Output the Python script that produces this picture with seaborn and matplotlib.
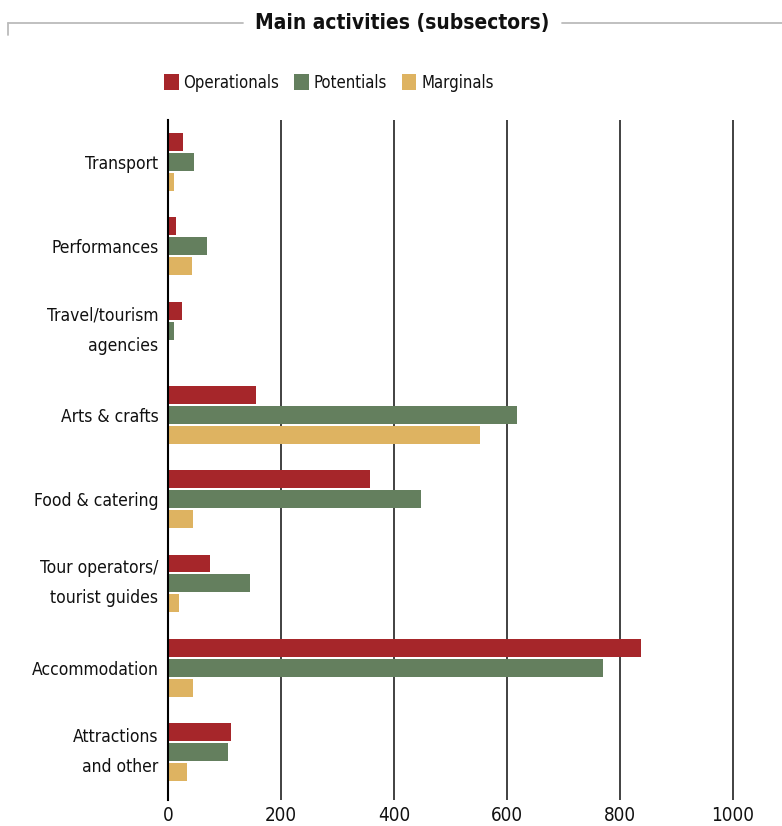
import matplotlib
matplotlib.use("Agg")
import matplotlib.pyplot as plt
from matplotlib.lines import Line2D
from matplotlib.patches import Patch
import seaborn as sns
import pandas as pd

categories = ["Transport", "Performances", "Travel/tourism\nagencies", "Arts & crafts",
              "Food & catering", "Tour operators/\ntourist guides", "Accommodation",
              "Attractions\nand other"]
operationals = [26, 14, 25, 155, 357, 75, 837, 111]
potentials = [46, 69, 11, 618, 448, 146, 770, 107]
marginals = [11, 42, 1, 553, 45, 19, 45, 33]
series = ["Operationals", "Potentials", "Marginals"]
colors = ["#A6262A", "#647F5E", "#DEB361"]
xticks = [0, 200, 400, 600, 800, 1000]

df = pd.DataFrame({
    "category": categories * 3,
    "value": operationals + potentials + marginals,
    "series": [s for s in series for _ in categories],
})

sns.set_theme(style="white")
plt.rcParams["font.family"] = ["DejaVu Sans"]
plt.rcParams["font.stretch"] = "condensed"
plt.rcParams["text.color"] = "#111111"
plt.rcParams["xtick.color"] = "#111111"
plt.rcParams["ytick.color"] = "#111111"

fig = plt.figure(figsize=(7.82, 8.26), dpi=100)
ax = fig.add_axes([168 / 782, 1 - 800 / 826, 1 - 168 / 782, 680 / 826])

sns.barplot(data=df, y="category", x="value", hue="series", order=categories,
            hue_order=series, palette=colors, orient="h", width=0.71, gap=0.1,
            saturation=1, ax=ax, legend=False, zorder=3, linewidth=0)

ax.set_xlim(0, 1087)
ax.set_ylim(7.57, -0.5)
ax.set_xticks(xticks)
ax.set_xticklabels([str(t) for t in xticks], fontsize=13.5)
ax.tick_params(axis="x", length=0, pad=4)
ax.tick_params(axis="y", length=0, pad=7, labelsize=12.5)
for lab in ax.get_yticklabels():
    if "\n" in lab.get_text():
        lab.set_linespacing(1.85)
        lab.set_verticalalignment("center")
ax.set_xlabel("")
ax.set_ylabel("")
for s in ["top", "right", "bottom"]:
    ax.spines[s].set_visible(False)
ax.spines["left"].set_color("black")
ax.spines["left"].set_linewidth(1.5)
ax.spines["left"].set_zorder(4)
for t in xticks[1:]:
    ax.axvline(t, color="#333333", lw=1.3, zorder=1)

# Title with side rules
fig.text(402 / 782, 1 - 23 / 826, "Main activities (subsectors)", ha="center", va="center",
         fontsize=15, fontweight="bold", color="#111111")
fig.add_artist(Line2D([8 / 782, 243 / 782], [1 - 23 / 826] * 2, color="#BBBBBB", lw=1.3))
fig.add_artist(Line2D([8 / 782, 8 / 782], [1 - 23 / 826, 1 - 35 / 826], color="#BBBBBB", lw=1.3))
fig.add_artist(Line2D([562 / 782, 1.0], [1 - 23 / 826] * 2, color="#BBBBBB", lw=1.3))

handles = [Patch(facecolor=c, edgecolor="none", label=s) for s, c in zip(series, colors)]
fig.legend(handles=handles, loc="center", bbox_to_anchor=(329 / 782, 1 - 83 / 826), ncol=3,
           frameon=False, fontsize=12, handlelength=0.85, handleheight=1.1,
           handletextpad=0.3, columnspacing=0.9)

fig.savefig("out.png", dpi=100)
